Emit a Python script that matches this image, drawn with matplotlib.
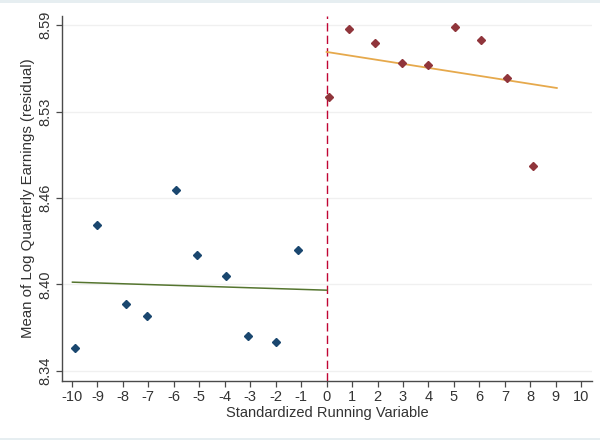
import matplotlib
matplotlib.use("Agg")
import matplotlib.pyplot as plt
from matplotlib.patches import Rectangle

plt.rcParams['font.family'] = ['Liberation Sans', 'DejaVu Sans']

# Bin means left of cutoff
left_x = [-9.88, -9.00, -7.89, -7.04, -5.93, -5.07, -3.96, -3.08, -1.98, -1.12]
left_y = [8.3562, 8.4454, 8.3883, 8.3796, 8.4709, 8.4241, 8.4086, 8.3651, 8.3606, 8.4272]
# Bin means right of cutoff
right_x = [0.11, 0.89, 1.92, 2.96, 3.98, 5.04, 6.07, 7.10, 8.12]
right_y = [8.5381, 8.5876, 8.5775, 8.5628, 8.5613, 8.5891, 8.5796, 8.5519, 8.4883]
# Linear fit endpoints
left_fit_x = [-9.98, 0.0]
left_fit_y = [8.4041, 8.3983]
right_fit_x = [0.0, 9.04]
right_fit_y = [8.5707, 8.5446]

xticks = list(range(-10, 11))
yticks = [8.34, 8.4025, 8.465, 8.5275, 8.59]
ytick_labels = ["8.34", "8.40", "8.46", "8.53", "8.59"]

fig = plt.figure(figsize=(6, 4.4), dpi=100)
fig.patch.set_facecolor('white')
# thin light frame strips at top and bottom
fig.add_artist(Rectangle((0, 436.5/440), 1, 3.5/440, transform=fig.transFigure,
                         facecolor='#e6eef1', edgecolor='none', zorder=-5))
fig.add_artist(Rectangle((0, 0), 1, 2.5/440, transform=fig.transFigure,
                         facecolor='#e6eef1', edgecolor='none', zorder=-5))

ax = fig.add_axes([62/600, 59.3/440, (591.7-62)/600, (380.7-16)/440])
ax.set_facecolor('white')

ax.set_xlim(-10.39, 10.41)
ax.set_ylim(8.3328, 8.5967)

ax.set_yticks(yticks)
ax.set_yticklabels(ytick_labels, rotation=90, va='center')
ax.set_xticks(xticks)
ax.set_xticklabels([str(t) for t in xticks])
ax.grid(axis='y', color='#f0f0f0', linewidth=1.0)
ax.set_axisbelow(True)

for s in ['top', 'right']:
    ax.spines[s].set_visible(False)
for s in ['left', 'bottom']:
    ax.spines[s].set_color('#4a4a4a')
    ax.spines[s].set_linewidth(1.0)
ax.tick_params(axis='both', direction='out', length=4, width=0.9, color='#4a4a4a',
               labelsize=10.5, labelcolor='#333333', pad=3)

ax.axvline(0, color='#c10534', linestyle=(0, (6, 3)), linewidth=1.0, zorder=2)

ax.plot(left_fit_x, left_fit_y, color='#55752f', linewidth=1.1, zorder=3)
ax.plot(right_fit_x, right_fit_y, color='#e6a94c', linewidth=1.3, zorder=3)

ax.plot(left_x, left_y, linestyle='none', marker='D', markersize=4.2,
        color='#1a476f', zorder=4)
ax.plot(right_x, right_y, linestyle='none', marker='D', markersize=4.2,
        color='#90353b', zorder=4)

ax.set_xlabel('Standardized Running Variable', fontsize=10.5, color='#333333', labelpad=1)
ax.set_ylabel('Mean of Log Quarterly Earnings (residual)', fontsize=10.8,
              color='#333333', labelpad=2)

fig.savefig('out.png', dpi=100, facecolor=fig.get_facecolor())
